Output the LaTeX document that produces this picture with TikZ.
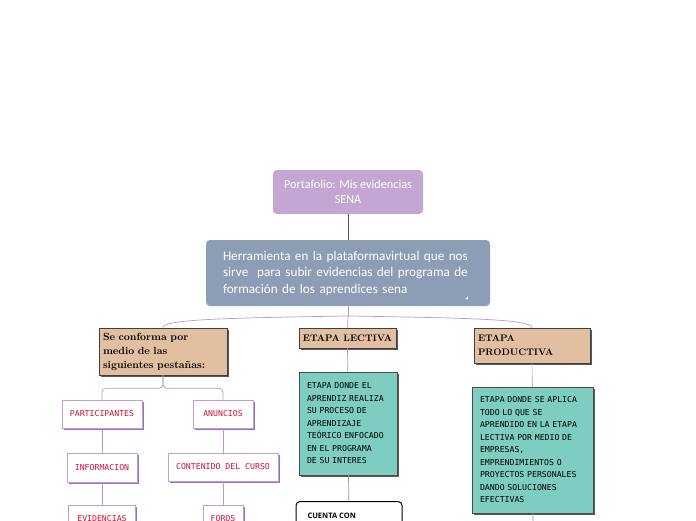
\documentclass[tikz,border=0pt]{standalone}
\usepackage{fontspec}
\usepackage{tikz}
\usetikzlibrary{shadows,calc}
\newfontfamily\carlito{Carlito}
\newfontfamily\pixfont{DejaVu Sans Mono}
\newfontfamily\headfont{Open Sans}
\definecolor{rootfill}{HTML}{C3A6D2}
\definecolor{mainfill}{HTML}{8C9DB5}
\definecolor{tanfill}{HTML}{E2BFA0}
\definecolor{tealfill}{HTML}{7DCDC1}
\definecolor{tabline}{HTML}{BE9FD6}
\definecolor{tabshadow}{HTML}{9A70BE}
\definecolor{tabtext}{HTML}{D0103A}
\definecolor{linkdark}{HTML}{7A3D9E}
\definecolor{linklight}{HTML}{B996D0}
\begin{document}
\begin{tikzpicture}[x=1pt,y=-1pt,
  rootbox/.style={fill=rootfill,rounded corners=4pt,text=white,font=\carlito\fontsize{12.2}{14.5}\selectfont,align=center,minimum width=150pt,minimum height=44pt},
  mainbox/.style={fill=mainfill,rounded corners=4pt,text=white,font=\carlito\fontsize{13.2}{16.5}\selectfont,align=left,text width=250pt,inner xsep=17pt,minimum height=66pt},
  tanbox/.style={fill=tanfill,draw=black!75,line width=0.6pt,font=\bfseries\fontsize{9.5}{14}\selectfont,align=left,inner sep=4pt,drop shadow={shadow xshift=2pt,shadow yshift=-2pt,fill=black!65,opacity=1}},
  tabbox/.style={fill=white,draw=tabline,line width=0.6pt,text=tabtext,font=\pixfont\fontsize{8.2}{10}\selectfont,minimum height=28pt,drop shadow={shadow xshift=1.5pt,shadow yshift=-1.5pt,fill=tabshadow,opacity=1}},
  tealbox/.style={fill=tealfill,draw=black!70,line width=0.6pt,text=black,font=\pixfont\fontsize{8.2}{12.5}\selectfont,align=left,inner xsep=8pt,drop shadow={shadow xshift=2pt,shadow yshift=-2pt,fill=black!65,opacity=1}},
  link/.style={draw=linklight,line width=0.7pt},
  greylink/.style={draw=black!40,line width=0.7pt}]
\useasboundingbox (0,0) rectangle (696,520);
\node[rootbox] (root) at (348,192) {Portafolio: Mis evidencias\\SENA};
\node[mainbox] (main) at (348,273) {Herramienta en la plataformavirtual que nos\\sirve\ \ para subir evidencias del programa de\\formaci\'on de los aprendices sena};
\fill[white] ($(main.south east)+(-22,-10)$) -- ++(0,3) -- ++(-3,0) -- cycle;
\draw[draw=linkdark,line width=0.8pt] (root) -- (main);

\node[tanbox,text width=120pt,minimum height=47pt,font=\bfseries\fontsize{10.4}{14}\selectfont] (tabs) at (163,351.5) {Se conforma por\\medio de las\\siguientes pesta\~nas:};
\node[tanbox,minimum width=95pt,minimum height=20pt,align=center] (lectiva) at (347.5,338) {ETAPA LECTIVA};
\node[tanbox,text width=108pt,minimum height=35pt] (productiva) at (532,345.5) {ETAPA\\PRODUCTIVA};
\coordinate (split) at (348,316);
\draw[link] (main.south) -- (split);
\draw[link] (split) .. controls +(-130,2) and +(0,-8) .. (tabs.north);
\draw[link] (split) -- (lectiva.north);
\draw[link] (split) .. controls +(130,2) and +(0,-8) .. (productiva.north);

\node[tabbox,minimum width=80pt] (part) at (102,414) {PARTICIPANTES};
\node[tabbox,minimum width=60pt] (anun) at (223,414) {ANUNCIOS};
\node[tabbox,minimum width=70pt,minimum height=29pt] (info) at (102,467.5) {INFORMACION};
\node[tabbox,minimum width=110pt] (cont) at (223,467) {CONTENIDO DEL CURSO};
\node[tabbox,minimum width=67pt] (evid) at (102,519) {EVIDENCIAS};
\node[tabbox,minimum width=40pt] (foros) at (223,519) {FOROS};
\draw[link,rounded corners=4pt] (tabs.south) -- ++(0,13) -| (part.north);
\draw[link,rounded corners=4pt] (tabs.south) -- ++(0,13) -| (anun.north);
\draw[link] (part) -- (info);
\draw[link] (info) -- (evid);
\draw[link] (anun) -- (cont);
\draw[link] (cont) -- (foros);

\node[tealbox,text width=82pt,minimum height=103pt] (tealL) at (348,423.5) {ETAPA DONDE EL\\APRENDIZ REALIZA\\SU PROCESO DE\\APRENDIZAJE\\TE\'ORICO ENFOCADO\\EN EL PROGRAMA\\DE SU INTERES};
\node[draw=black,line width=1pt,rounded corners=4pt,fill=white,minimum width=106pt,minimum height=40pt,anchor=north] (cuenta) at (349,501) {};
\node[font=\headfont\bfseries\fontsize{7.5}{9}\selectfont,anchor=base west] (cuentatxt) at (304,518.5) {CUENTA CON};
\draw[link] (lectiva) -- (tealL);
\draw[greylink] (tealL) -- (cuenta);

\node[tealbox,text width=105pt,minimum height=126pt] (tealR) at (532.5,450) {ETAPA DONDE SE APLICA\\TODO LO QUE SE\\APRENDIDO EN LA ETAPA\\LECTIVA POR MEDIO DE\\EMPRESAS,\\EMPRENDIMIENTOS O\\PROYECTOS PERSONALES\\DANDO SOLUCIONES\\EFECTIVAS};
\coordinate (rdown) at (533,530);
\draw[link] (productiva) -- (tealR);
\draw[greylink] (tealR) -- (rdown);
\end{tikzpicture}
\end{document}
